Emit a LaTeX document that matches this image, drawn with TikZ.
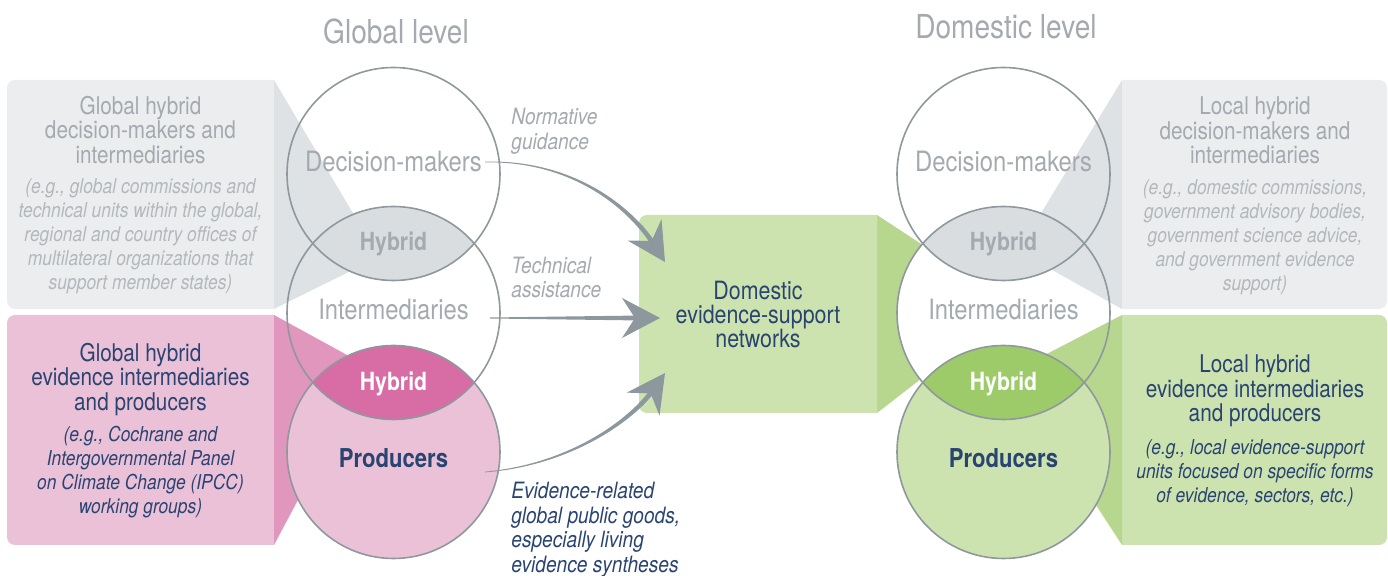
\documentclass[tikz,border=0pt]{standalone}
\usepackage{fontspec}
\setmainfont{TeX Gyre Heros}[FakeStretch=0.85]
\usetikzlibrary{arrows.meta,calc}
\definecolor{boxgray}{HTML}{ECEDEF}
\definecolor{wedgegray}{HTML}{DFE2E5}
\definecolor{lensgray}{HTML}{D9DDE0}
\definecolor{boxpink}{HTML}{EBC1D8}
\definecolor{wedgepink}{HTML}{E096BD}
\definecolor{lenspink}{HTML}{D86DA5}
\definecolor{boxgreen}{HTML}{CCE3B0}
\definecolor{wedgegreen}{HTML}{B7D78F}
\definecolor{lensgreen}{HTML}{9DCB6A}
\definecolor{ringgray}{HTML}{8E989D}
\definecolor{arrowgray}{HTML}{8D989E}
\definecolor{txtgray}{HTML}{A4AAAF}
\definecolor{txtlight}{HTML}{B3B8BC}
\definecolor{navytxt}{HTML}{2A4472}
\def\crad{106.5}
\begin{document}
\begin{tikzpicture}[x=0.5pt,y=-0.5pt,
  ring/.style={draw=ringgray,line width=0.8pt},
  leveltitle/.style={font=\fontsize{16.5pt}{16.5pt}\selectfont,text=txtgray,inner sep=0pt},
  circlabel/.style={font=\fontsize{14pt}{14pt}\selectfont,text=txtgray,inner sep=0pt},
  hyb/.style={font=\fontsize{12.5pt}{12.5pt}\selectfont\bfseries,inner sep=0pt},
  prod/.style={font=\fontsize{13pt}{13pt}\selectfont\bfseries,text=navytxt,inner sep=0pt},
  boxtitle/.style={font=\fontsize{12.2pt}{12.25pt}\selectfont,align=center,inner sep=0pt},
  note/.style={font=\fontsize{10.25pt}{12pt}\selectfont\itshape,align=center,inner sep=0pt},
  alabel/.style={font=\fontsize{11.25pt}{12.25pt}\selectfont\itshape,align=left,inner sep=0pt,anchor=west},
  head/.style={-{Stealth[length=19pt,width=20pt,inset=6.5pt]},draw=arrowgray,fill=arrowgray,line width=0.6pt},
]
\useasboundingbox (0,0) rectangle (1388,576);

% circle centres
\coordinate (L1) at (393.5,174);
\coordinate (L2) at (393.5,313);
\coordinate (L3) at (393.5,452);
\coordinate (R1) at (1003.5,174);
\coordinate (R2) at (1003.5,313);
\coordinate (R3) at (1003.5,452);

% ---- left boxes and wedges
\begin{scope}
  \clip (0,0) rectangle (274,576);
  \fill[boxgray,rounded corners=4pt] (7,80) rectangle (300,309);
  \fill[boxpink,rounded corners=4pt] (7,315) rectangle (300,545);
\end{scope}
\fill[wedgegray] (274,80) -- (379,257) -- (274,309) -- cycle;
\fill[wedgepink] (274,315) -- (369,367) -- (274,545) -- cycle;

% ---- centre box and wedge
\fill[wedgegreen] (877,215) -- (935,253) -- (935,368) -- (877,413) -- cycle;
\begin{scope}
  \clip (600,0) rectangle (877,576);
  \fill[boxgreen,rounded corners=4pt] (639,215) rectangle (900,413);
\end{scope}
\fill[white] (R2) circle[radius=\crad];

% ---- right boxes and wedges
\fill[wedgegray] (1122,80) -- (1018,251) -- (1122,309) -- cycle;
\begin{scope}
  \clip (1122,0) rectangle (1388,576);
  \fill[boxgray,rounded corners=4pt] (1100,80) rectangle (1387,309);
  \fill[boxgreen,rounded corners=4pt] (1100,315) rectangle (1387,545);
\end{scope}
\fill[wedgegreen] (1122,315) -- (1010,373) -- (1122,545) -- cycle;

% ---- producer circles
\fill[boxpink] (L3) circle[radius=\crad];
\fill[boxgreen] (R3) circle[radius=\crad];

% ---- lenses
\begin{scope}\clip (L1) circle[radius=\crad]; \fill[lensgray] (L2) circle[radius=\crad];\end{scope}
\begin{scope}\clip (L2) circle[radius=\crad]; \fill[lenspink] (L3) circle[radius=\crad];\end{scope}
\begin{scope}\clip (R1) circle[radius=\crad]; \fill[lensgray] (R2) circle[radius=\crad];\end{scope}
\begin{scope}\clip (R2) circle[radius=\crad]; \fill[lensgreen] (R3) circle[radius=\crad];\end{scope}

% ---- rings
\foreach \c in {L1,L2,L3,R1,R2,R3} \draw[ring] (\c) circle[radius=\crad];

% ---- level titles
\node[leveltitle] (glob) at (396,31) {Global level};
\node[leveltitle] (dom) at (1006,27) {Domestic level};

% ---- circle labels
\node[circlabel] (ldm) at (393.5,162) {Decision-makers};
\node[hyb,text=txtgray] (lh1) at (393.5,244) {Hybrid};
\node[circlabel] (lim) at (393.5,310) {Intermediaries};
\node[hyb,text=white] (lh2) at (393.5,384) {Hybrid};
\node[prod] (lpr) at (393.5,458) {Producers};
\node[circlabel] (rdm) at (1003.5,162) {Decision-makers};
\node[hyb,text=txtgray] (rh1) at (1003.5,244) {Hybrid};
\node[circlabel] (rim) at (1003.5,310) {Intermediaries};
\node[hyb,text=white] (rh2) at (1003.5,384) {Hybrid};
\node[prod] (rpr) at (1003.5,458) {Producers};

% ---- box texts
\node[boxtitle,text=txtgray] (lgt) at (140.5,130) {Global hybrid\\decision-makers and\\intermediaries};
\node[note,text=txtlight] (lgn) at (140.5,236) {(e.g., global commissions and\\technical units within the global,\\regional and country offices of\\multilateral organizations that\\support member states)};
\node[boxtitle,text=navytxt] (lpt) at (140.5,379.5) {Global hybrid\\evidence intermediaries\\and producers};
\node[note,text=navytxt] (lpn) at (140.5,472) {(e.g., Cochrane and\\Intergovernmental Panel\\on Climate Change (IPCC)\\working groups)};
\node[boxtitle,text=navytxt,font=\fontsize{12.6pt}{12pt}\selectfont] (ctr) at (758,315) {Domestic\\evidence-support\\networks};
\node[boxtitle,text=txtgray] (rgt) at (1255,130.5) {Local hybrid\\decision-makers and\\intermediaries};
\node[note,text=txtlight] (rgn) at (1255,237) {(e.g., domestic commissions,\\government advisory bodies,\\government science advice,\\and government evidence\\support)};
\node[boxtitle,text=navytxt] (rpt) at (1255,391) {Local hybrid\\evidence intermediaries\\and producers};
\node[note,text=navytxt] (rpn) at (1255,473) {(e.g., local evidence-support\\units focused on specific forms\\of evidence, sectors, etc.)};

% ---- arrow labels
\node[alabel,text=txtgray] (lab1) at (511,131.5) {Normative\\guidance};
\node[alabel,text=txtgray] (lab2) at (511,277.5) {Technical\\assistance};
\node[alabel,text=navytxt] (lab3) at (511,530) {Evidence-related\\global public goods,\\especially living\\evidence syntheses};

% ---- arrows
% normative guidance
\coordinate (nS) at (485,162);
\coordinate (nC2) at (632,210);
\coordinate (nE) at (654.3,245.1);
\coordinate (nT) at (665,262);
\fill[arrowgray] ($(nS)+(0,-0.4)$) .. controls (575.66,159.25) and (633.7,208.93) .. ($(nE)+(2.1,-1.34)$)
  -- ($(nE)+(-2.1,1.34)$) .. controls (630.3,211.07) and (574.34,160.75) .. ($(nS)+(0,0.4)$) -- cycle;
\draw[head] ($(nT)!0.7!(nC2)$) -- (nT);
% technical assistance
\coordinate (tS) at (490,318);
\coordinate (tE) at (642,318);
\coordinate (tT) at (660,318);
\fill[arrowgray] ($(tS)+(0,-0.5)$) -- ($(tE)+(0,-2.5)$) -- ($(tE)+(0,2.5)$) -- ($(tS)+(0,0.5)$) -- cycle;
\draw[head] (618,318) -- (tT);
% evidence-related global public goods
\coordinate (eS) at (485,472);
\coordinate (eC2) at (632,420);
\coordinate (eE) at (653.5,389.4);
\coordinate (eT) at (665,373);
\fill[arrowgray] ($(eS)+(0,0.4)$) .. controls (570.59,465.81) and (633.64,421.15) .. ($(eE)+(2.05,1.44)$)
  -- ($(eE)+(-2.05,-1.44)$) .. controls (630.36,418.85) and (569.41,464.19) .. ($(eS)+(0,-0.4)$) -- cycle;
\draw[head] ($(eT)!0.7!(eC2)$) -- (eT);
\end{tikzpicture}
\end{document}
